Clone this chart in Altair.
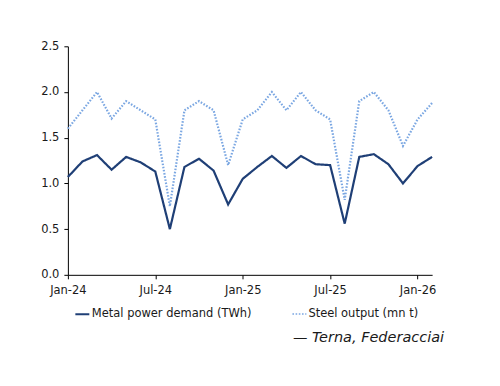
import altair as alt
import pandas as pd

months = ["Jan-24", "Feb-24", "Mar-24", "Apr-24", "May-24", "Jun-24", "Jul-24", "Aug-24",
          "Sep-24", "Oct-24", "Nov-24", "Dec-24", "Jan-25", "Feb-25", "Mar-25", "Apr-25",
          "May-25", "Jun-25", "Jul-25", "Aug-25", "Sep-25", "Oct-25", "Nov-25", "Dec-25",
          "Jan-26", "Feb-26"]
metal = [1.07, 1.24, 1.31, 1.15, 1.29, 1.23, 1.13, 0.50, 1.18, 1.27, 1.14, 0.77,
         1.05, 1.18, 1.30, 1.17, 1.30, 1.21, 1.20, 0.56, 1.29, 1.32, 1.21, 1.00,
         1.19, 1.29]
steel = [1.60, 1.80, 2.00, 1.71, 1.90, 1.80, 1.70, 0.75, 1.80, 1.90, 1.80, 1.20,
         1.70, 1.80, 2.00, 1.80, 2.00, 1.80, 1.70, 0.82, 1.90, 2.00, 1.80, 1.41,
         1.70, 1.88]
series_names = ["Metal power demand (TWh)", "Steel output (mn t)"]
tick_idx = [0, 6, 12, 18, 24]
source = "\u2014 Terna, Federacciai"

FONT = "DejaVu Sans"
FS = 11.5

rows = []
for i, m in enumerate(months):
    rows.append({"idx": i, "month": m, "series": series_names[0], "value": metal[i]})
    rows.append({"idx": i, "month": m, "series": series_names[1], "value": steel[i]})
df = pd.DataFrame(rows)

label_expr = "[" + ",".join(f"'{m}'" for m in months) + "][datum.value]"

lines = alt.Chart(df).mark_line(strokeWidth=2.2).encode(
    x=alt.X("idx:Q",
            scale=alt.Scale(domain=[0, len(months) - 1], nice=False, zero=False),
            axis=alt.Axis(values=tick_idx, labelExpr=label_expr, title=None, grid=False,
                          domainColor="#000000", tickColor="#000000", tickSize=4,
                          labelColor="#1a1a1a", labelFontSize=FS, labelFont=FONT,
                          labelPadding=6, labelFlush=False)),
    y=alt.Y("value:Q",
            scale=alt.Scale(domain=[0, 2.5], nice=False),
            axis=alt.Axis(values=[0, 0.5, 1.0, 1.5, 2.0, 2.5], format=".1f", title=None,
                          grid=False, domainColor="#000000", tickColor="#000000",
                          tickSize=4, labelColor="#1a1a1a", labelFontSize=FS,
                          labelFont=FONT, labelPadding=5)),
    color=alt.Color("series:N",
                    scale=alt.Scale(domain=series_names, range=["#1f3f76", "#7ba7e2"]),
                    legend=alt.Legend(title=None, orient="none", legendX=6, legendY=260,
                                      direction="horizontal", symbolType="stroke",
                                      symbolSize=196, symbolStrokeWidth=2,
                                      labelFont=FONT, labelFontSize=FS,
                                      labelColor="#1a1a1a", columnPadding=36,
                                      labelOffset=1, labelLimit=300)),
    strokeDash=alt.StrokeDash("series:N",
                              scale=alt.Scale(domain=series_names, range=[[1, 0], [1.6, 1.6]]),
                              legend=None),
    strokeWidth=alt.StrokeWidth("series:N",
                                scale=alt.Scale(domain=series_names, range=[2.2, 1.6]),
                                legend=None),
)

src = alt.Chart(pd.DataFrame({"t": [source]})).mark_text(
    align="right", baseline="middle", fontStyle="italic", fontSize=14.5, font=FONT,
    color="#1a1a1a"
).encode(text="t:N", x=alt.value(377), y=alt.value(292))

chart = alt.layer(lines, src).properties(
    width=365, height=229,
    background="#ffffff",
    autosize=alt.AutoSizeParams(type="none"),
    padding={"left": 60, "top": 38, "right": 60, "bottom": 100},
).configure_view(stroke=None)

chart.save("out.html", embed_options={"renderer": "svg", "actions": False})
